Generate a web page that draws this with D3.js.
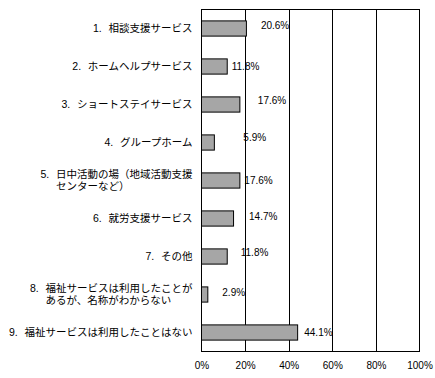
<!DOCTYPE html>
<html><head><meta charset="utf-8">
<script src="https://cdn.jsdelivr.net/npm/d3@7"></script>
<style>
html,body{margin:0;padding:0;background:#fff;}
svg{display:block;}
</style>
</head><body>
<svg id="chart" width="435" height="378"></svg>
<script>
const categoryNumbers = ["1.", "2.", "3.", "4.", "5.", "6.", "7.", "8.", "9."];
const categories = [
  ["相談支援サービス"],
  ["ホームヘルプサービス"],
  ["ショートステイサービス"],
  ["グループホーム"],
  ["日中活動の場（地域活動支援", "センターなど）"],
  ["就労支援サービス"],
  ["その他"],
  ["福祉サービスは利用したことが", "あるが、名称がわからない"],
  ["福祉サービスは利用したことはない"]
];
const values = [20.6, 11.8, 17.6, 5.9, 17.6, 14.7, 11.8, 2.9, 44.1];
const tickValues = [0, 20, 40, 60, 80, 100];
// manual label placement offsets (layout only)
const labelDx = [14.5, 4.5, 18, 29, 4.5, 15.5, 13.5, 14.5, 6.6];
const labelDy = [-3, 0, -4.5, -5, 0, -2, -4, -2, -0.5];

const W = 435, H = 378;
const m = {left: 201.5, right: 15.5, top: 9.5, bottom: 26.5};
const svg = d3.select("#chart");
const x = d3.scaleLinear().domain([0, 100]).range([m.left, W - m.right]);
const y = d3.scaleBand().domain(d3.range(values.length)).range([m.top, H - m.bottom])
  .paddingInner(0.6).paddingOuter(0.3);

const cjk = "'Liberation Sans', 'Noto Sans CJK JP', sans-serif";
const lat = "'Liberation Sans', Arial, sans-serif";

// gridlines
svg.append("g").selectAll("line").data(tickValues.slice(1, -1)).join("line")
  .attr("x1", d => Math.round(x(d)) + 0.5).attr("x2", d => Math.round(x(d)) + 0.5)
  .attr("y1", m.top).attr("y2", H - m.bottom)
  .attr("stroke", "#000").attr("stroke-width", 1);

// plot border
svg.append("rect").attr("x", m.left).attr("y", m.top)
  .attr("width", W - m.right - m.left).attr("height", H - m.bottom - m.top)
  .attr("fill", "none").attr("stroke", "#000").attr("stroke-width", 1);

// bars
svg.append("g").selectAll("rect").data(values).join("rect")
  .attr("x", x(0)).attr("y", (d, i) => y(i))
  .attr("width", d => x(d) - x(0)).attr("height", y.bandwidth())
  .attr("fill", "#a6a6a6").attr("stroke", "#000").attr("stroke-width", 1);

// value labels
svg.append("g").selectAll("text").data(values).join("text")
  .attr("x", (d, i) => x(d) + labelDx[i])
  .attr("y", (d, i) => y(i) + y.bandwidth() / 2 + labelDy[i])
  .attr("dy", "0.35em")
  .attr("font-family", lat).attr("font-size", 10).attr("fill", "#000")
  .text(d => d.toFixed(1) + "%");

// x axis
const xAxis = d3.axisBottom(x).tickValues(tickValues).tickSize(0).tickPadding(0)
  .tickFormat(d => d + "%");
const ax = svg.append("g").attr("transform", `translate(0,${H - m.bottom + 17})`).call(xAxis);
ax.select(".domain").remove();
ax.selectAll("text").attr("font-family", lat).attr("font-size", 10).attr("fill", "#000").attr("dy", "0");

// category labels
const lg = svg.append("g");
const fs = 10.5;
function measure(str) {
  const t = lg.append("text").attr("font-family", cjk).attr("font-size", fs).text(str);
  const w = t.node().getComputedTextLength();
  t.remove();
  return w;
}
categories.forEach((lines, i) => {
  const cy = y(i) + y.bandwidth() / 2;
  const xr = m.left - 9;
  const lh = 12;
  const y1 = lines.length === 1 ? cy : cy - lh / 2;
  const start = xr - measure(lines[0]);
  const t = lg.append("text").attr("text-anchor", "end").attr("font-family", cjk)
    .attr("font-size", fs).attr("fill", "#000");
  t.append("tspan").attr("x", xr).attr("y", y1).attr("dy", "0.38em").text(lines[0]);
  if (lines.length > 1) {
    t.append("tspan").attr("x", start + measure(lines[1])).attr("y", cy + lh / 2)
      .attr("dy", "0.38em").text(lines[1]);
  }
  lg.append("text").attr("x", start - 15.5).attr("y", y1).attr("dy", "0.38em")
    .attr("text-anchor", "start").attr("font-family", lat).attr("font-size", fs)
    .attr("fill", "#000").text(categoryNumbers[i]);
});
</script>
</body></html>
